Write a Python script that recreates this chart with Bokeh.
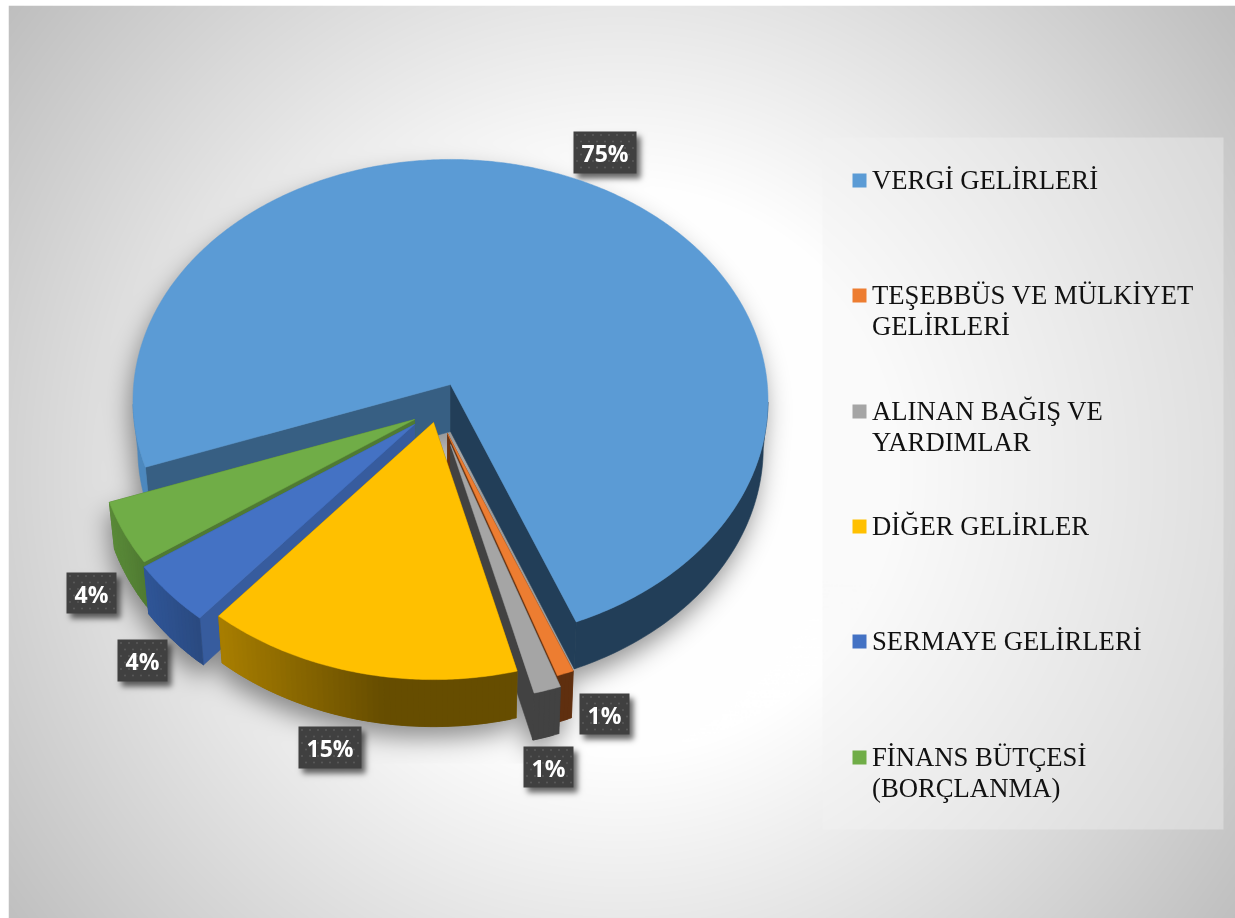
import numpy as np
from bokeh.embed import file_html
from bokeh.models import Range1d
from bokeh.plotting import figure
from bokeh.resources import INLINE
from bokeh.core.properties import value

# ---------- data ----------
categories = ["VERGİ GELİRLERİ", "TEŞEBBÜS VE MÜLKİYET\nGELİRLERİ", "ALINAN BAĞIŞ VE\nYARDIMLAR",
              "DİĞER GELİRLER", "SERMAYE GELİRLERİ", "FİNANS BÜTÇESİ\n(BORÇLANMA)"]
values = [74.4, 0.8, 1.3, 15.1, 4.2, 4.2]
labels = ["75%", "1%", "1%", "15%", "4%", "4%"]
colors = ["#5B9BD5", "#ED7D31", "#A5A5A5", "#FFC000", "#4472C4", "#70AD47"]

# ---------- layout (reference pixel coordinates, y downwards) ----------
W, H, X0, Y0 = 1235, 918, 8, 5
START = 250.3
RX, RA, K, DEPTH, SQUEEZE, SQX = 316.8, 240.0, 0.0665, 47.0, 0.985, 450.0
apex = [(450, 384), (447, 433), (450, 444), (433, 422), (414, 424), (414, 419)]
wall_l = ["#4C88BE", "#5F2F0F", "#424242", "#A87E00", "#2F5597", "#5A8A39"]
wall_r = ["#223E58", "#5F2F0F", "#424242", "#664D00", "#2A4A80", "#4F7A31"]
radial = [("#375F83", "#223E58"), ("#6B3410", "#6B3410"), ("#424242", "#424242"),
          ("#8A6800", "#8A6800"), ("#375C9E", "#375C9E"), ("#4F7A33", "#4F7A33")]
boxes = [(573, 131, 636, 173), (579, 693, 629, 734), (523, 746, 573, 787),
         (298, 726, 361, 768), (117, 639, 167, 681), (66, 572, 116, 613)]
legend_y = [179, 294, 410, 525, 640, 756]
marker_y = [180, 295, 411, 526, 641, 757]
legend_line = 31
PANEL = (822, 137, 1223, 829)


def rim(i, th):
    t = np.radians(th)
    u, v = np.sin(t), np.cos(t)
    w = 1 + K * v
    ax, ay = apex[i]
    return ax + RX * u / w, ay - RA * v / w


def down(x, y):
    return SQX + (np.asarray(x) - SQX) * SQUEEZE, np.asarray(y) + DEPTH


# slice angles follow the values
spans = []
a = START
for val in values:
    b = a + val * 3.6
    spans.append((a, b))
    a = b
spans = [(s % 360 if i else s, (s % 360 if i else s) + (e - s)) for i, (s, e) in enumerate(spans)]


def top_poly(i):
    s, e = spans[i]
    th = np.linspace(s, e, max(int((e - s) * 2), 3))
    x, y = rim(i, th)
    return np.r_[apex[i][0], x], np.r_[apex[i][1], y]


# ---------- background with gradient and soft shadows ----------
ys, xs = np.mgrid[0:H, 0:W]
d = np.hypot(xs - 620.0, ys - 470.0)
fall = 0.132 * np.clip(d - 280, 0, None)
L = 255.0 - fall


def fill(mask, px, py):
    x0, y0, x1, y1 = px, py, np.roll(px, -1), np.roll(py, -1)
    for r in range(max(int(py.min()), 0), min(int(py.max()) + 1, H), 1):
        c = (y0 <= r) != (y1 <= r)
        if not c.any():
            continue
        cross = np.sort(x0[c] + (r - y0[c]) * (x1[c] - x0[c]) / (y1[c] - y0[c]))
        for j in range(0, len(cross) - 1, 2):
            mask[r, max(int(cross[j]), 0):max(int(cross[j + 1]), 0)] = 1.0


def blur(m, sigma):
    fy = np.fft.fftfreq(m.shape[0])[:, None]
    fx = np.fft.rfftfreq(m.shape[1])[None, :]
    g = np.exp(-2 * (np.pi * sigma) ** 2 * (fx ** 2 + fy ** 2))
    return np.fft.irfft2(np.fft.rfft2(m) * g, s=m.shape)


mask = np.zeros((H, W))
for i in range(len(values)):
    px, py = top_poly(i)
    for dy in np.arange(0, DEPTH + 1, 7.8):
        f = dy / DEPTH
        fill(mask, SQX + (px - SQX) * (1 - (1 - SQUEEZE) * f) - 3, py + dy + 12)
sh = blur(mask, 12.0)
sh[763:, :] = 0
L = L * (1 - 0.42 * np.clip(sh, 0, 1))

# legend panel
x1, y1, x2, y2 = PANEL
L[y1:y2, x1:x2] = 250 - 0.6 * fall[y1:y2, x1:x2]

# label shadows
bm = np.zeros((H, W))
for (a1, b1, a2, b2) in boxes:
    bm[b1 + 5:b2 + 5, a1 + 4:a2 + 4] = 1
L = L * (1 - 0.6 * np.clip(blur(bm, 3.0), 0, 1))

g8 = np.clip(L, 0, 255).astype(np.uint32)
rgba = (0xFF000000 | (g8 << 16) | (g8 << 8) | g8)[Y0:, X0:][::-1].copy()

FH = H - Y0
p = figure(width=W - X0, height=FH, x_range=Range1d(X0, W), y_range=Range1d(0, FH),
           x_axis_type=None, y_axis_type=None, toolbar_location=None, output_backend="svg",
           min_border=0, outline_line_color=None)
p.grid.visible = False
p.styles = {"position": "fixed", "left": f"{X0}px", "top": f"{Y0}px"}


def Y(y):
    return H - np.asarray(y, dtype=float)


p.image_rgba(image=[rgba], x=X0, y=0, dw=W - X0, dh=FH)


def hexmix(c1, c2, t):
    a_ = [int(c1[k:k + 2], 16) for k in (1, 3, 5)]
    b_ = [int(c2[k:k + 2], 16) for k in (1, 3, 5)]
    return "#%02x%02x%02x" % tuple(int(round(a_[k] + (b_[k] - a_[k]) * t)) for k in range(3))


def draw(xs_, ys_, cols):
    p.patches(xs_, ys_, fill_color=cols, line_color=cols, line_width=0.6)


def wall_band(tx, ty, col):
    """One outer wall piece as a single polygon."""
    bx, by = down(tx, ty)
    draw([np.r_[tx, bx[::-1]].tolist()], [Y(np.r_[ty, by[::-1]]).tolist()], [col])


for i in [0, 1, 2, 5, 4, 3]:
    s, e = spans[i]
    ax, ay = apex[i]
    bax, bay = down(ax, ay)
    # radial walls, the one nearest the viewer last
    walls = sorted([(s, radial[i][0]), (e, radial[i][1])], key=lambda q: -abs((q[0] % 360) - 180))
    for t0, col in walls:
        cx, cy = rim(i, t0)
        bx, by = down(cx, cy)
        draw([[ax, cx, float(bx), float(bax)]], [Y([ay, cy, float(by), float(bay)]).tolist()], [col])
    # outer wall
    n = max(int(e - s) + 1, 4)
    th = np.linspace(s, e, n + 1)
    tx, ty = rim(i, th)
    if i == 0:
        # only the parts facing the viewer, the left and right arcs have their own shade
        c = np.cos(np.radians(th))
        left = (c < -0.07) & (th < 360)
        right = (c < -0.07) & (th > 360)
        wall_band(tx[left], ty[left], wall_l[0])
        wall_band(tx[right], ty[right], wall_r[0])
    else:
        # shaded in overlapping bands so that no seams show
        lo, hi = tx.min(), tx.max()
        order = range(n) if tx[0] > tx[-1] else range(n - 1, -1, -1)
        for k in order:
            mid = (tx[k] + tx[k + 1]) / 2
            if i == 3:
                col = hexmix(wall_l[3], wall_r[3], min(1.0, (mid - lo) / (0.55 * (hi - lo))))
            else:
                col = hexmix(wall_l[i], wall_r[i], (mid - lo) / max(hi - lo, 1))
            stop = min(k + 3, n + 1)
            wall_band(tx[k:stop], ty[k:stop], col)
    # top face
    px, py = top_poly(i)
    p.patch(px, Y(py), fill_color=colors[i], line_color=colors[i], line_width=0.5)

# ---------- data labels ----------
for (a1, b1, a2, b2), lab in zip(boxes, labels):
    p.quad(left=a1, right=a2, top=float(Y(b1)), bottom=float(Y(b2)), fill_color="#404040", line_color=None)
    dx, dy = [], []
    for r, yy in enumerate(np.arange(b1 + 3.5, b2 - 1, 6.5)):
        for xx in np.arange(a1 + (3.5 if r % 2 == 0 else 7.5), a2 - 1, 8):
            dx.append(xx)
            dy.append(float(Y(yy)))
    p.scatter(dx, dy, size=2.2, marker="circle", fill_color="#585858", line_color=None)
    p.text([(a1 + a2) / 2], [float(Y((b1 + b2) / 2 + 0.5))], text=[lab], text_color="#FFFFFF",
           text_font=value("Open Sans"), text_font_style="bold", text_font_size="23px",
           text_align="center", text_baseline="middle")

# ---------- legend ----------
for cat, col, yy, my in zip(categories, colors, legend_y, marker_y):
    p.quad(left=852, right=866, top=float(Y(my - 7)), bottom=float(Y(my + 7)), fill_color=col, line_color=None)
    for n, line in enumerate(cat.split("\n")):
        p.text([871.5], [float(Y(yy + n * legend_line))], text=[line], text_color="#111111",
               text_font=value("Liberation Serif"), text_font_size="26.7px",
               text_align="left", text_baseline="middle")

open("out.html", "w").write(file_html(p, INLINE))
